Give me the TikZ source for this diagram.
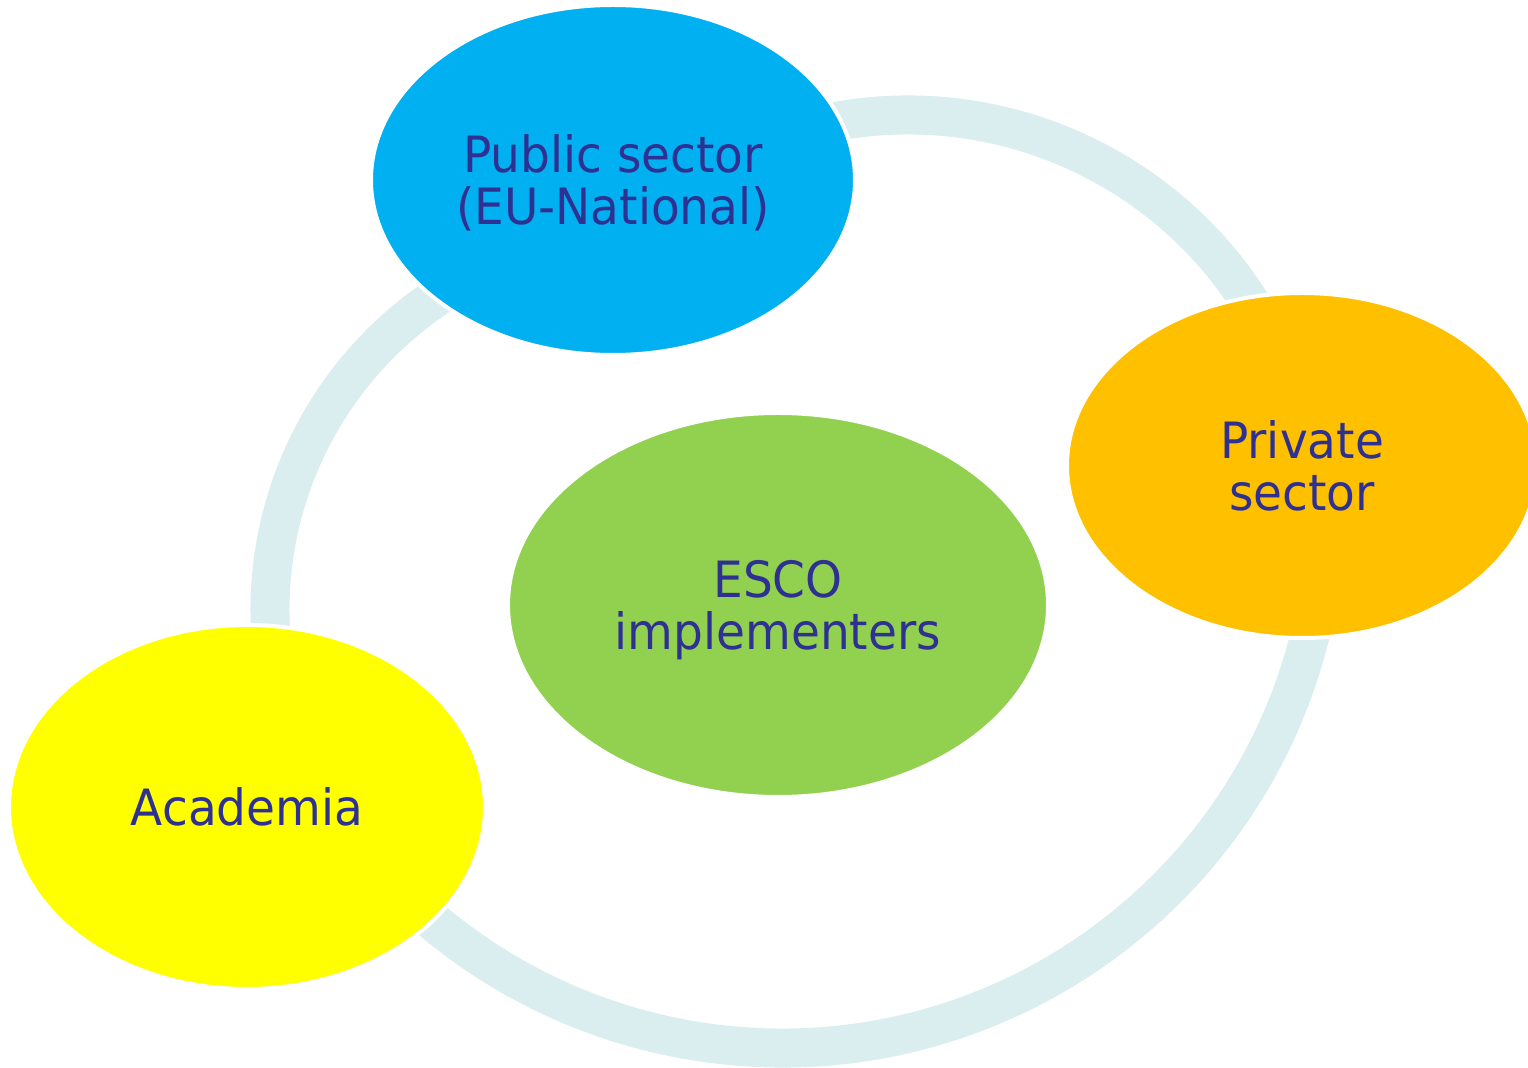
\documentclass[tikz,border=0pt]{standalone}
\usepackage{fontspec}
\setmainfont{DejaVu Sans}[FakeStretch=0.94]
\usetikzlibrary{shapes.geometric}
\definecolor{ringcol}{HTML}{DAEEF0}
\definecolor{txt}{HTML}{2E3192}
\definecolor{pubcol}{HTML}{00B0F0}
\definecolor{privcol}{HTML}{FFC000}
\definecolor{escocol}{HTML}{92D050}
\definecolor{acadcol}{HTML}{FFFF00}
\begin{document}
\begin{tikzpicture}[x=0.5pt,y=-0.5pt,
  ring/.style={draw=ringcol,line width=19.5pt},
  blob/.style={ellipse,inner sep=0pt,draw=white,line width=2pt,
    text=txt,align=center,text depth=0pt,
    font=\fontsize{25pt}{26pt}\selectfont},
]
\clip (0,0) rectangle (1528,1068);
\fill[white] (0,0) rectangle (1528,1068);

% centres of the three connecting arcs
\coordinate (ctop) at (908,521);
\coordinate (cleft) at (647,610);
\coordinate (cbottom) at (782,504);

% cycle arcs, drawn first so the ellipses cover their ends
\draw[ring] (ctop) ++(-106:406) arc[start angle=-106,end angle=-27,radius=406];
\draw[ring] (cleft) ++(170:377) arc[start angle=170,end angle=242,radius=377];
\draw[ring] (cbottom) ++(8:544) arc[start angle=8,end angle=136,radius=544];

% the four groups
\node[blob,fill=pubcol,minimum width=242pt,minimum height=175pt]
  (pub) at (613,180) {Public sector\\(EU-National)};
\node[blob,fill=privcol,minimum width=235pt,minimum height=172.5pt]
  (priv) at (1302,465.5) {Private\\sector};
\node[blob,fill=escocol,minimum width=270pt,minimum height=192pt]
  (esco) at (778,605) {ESCO\\implementers};
\node[blob,fill=acadcol,minimum width=238pt,minimum height=182pt]
  (acad) at (247,807) {Academia};
\end{tikzpicture}
\end{document}
